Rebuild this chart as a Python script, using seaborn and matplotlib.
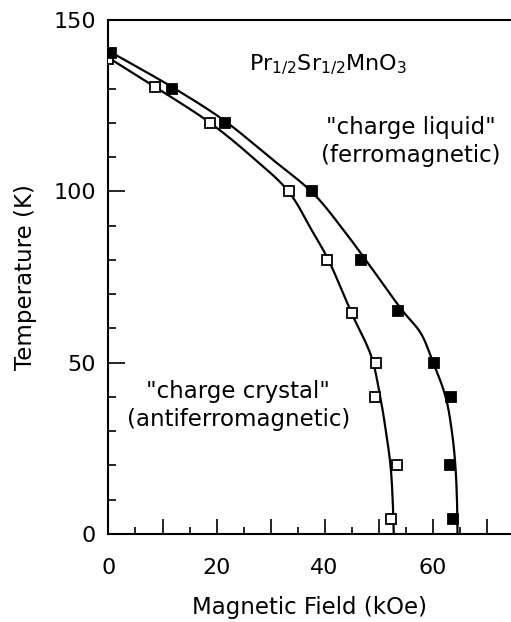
import matplotlib
matplotlib.use("Agg")
import matplotlib.pyplot as plt
from matplotlib.ticker import FixedLocator, FuncFormatter
import numpy as np
import pandas as pd
import seaborn as sns

# Measured transition points: field (kOe) and temperature (K)
field_open = [0.0, 8.6, 18.8, 33.5, 40.5, 45.0, 49.5, 49.3, 53.4, 52.2]
temp_open = [138.5, 130.5, 120.0, 100.0, 80.0, 64.5, 50.0, 40.0, 20.0, 4.5]
field_filled = [0.5, 11.8, 21.5, 37.7, 46.7, 53.5, 60.2, 63.4, 63.2, 63.7]
temp_filled = [140.5, 130.0, 120.0, 100.0, 80.0, 65.0, 50.0, 40.0, 20.0, 4.5]

# Guide-to-the-eye phase boundaries (knots of the drawn curves)
curve_open_field = [0.0, 8.6, 18.8, 26.6, 33.3, 37.6, 40.7, 45.0, 48.6, 50.3,
                    51.4, 52.2, 52.6, 52.8]
curve_open_temp = [139.0, 130.5, 120.0, 110.0, 100.0, 88.7, 80.0, 64.4, 52.0,
                   40.0, 29.4, 20.0, 10.0, 0.0]
curve_filled_field = [0.0, 11.7, 21.3, 29.8, 37.9, 43.5, 47.6, 54.3, 57.8, 59.9,
                      62.4, 63.6, 64.2, 64.5, 64.6]
curve_filled_temp = [141.0, 130.5, 120.8, 110.0, 99.4, 88.7, 80.0, 65.4, 58.6,
                     50.8, 40.0, 29.4, 20.0, 10.0, 0.0]

x_tick_labels = {0: "0", 20: "20", 40: "40", 60: "60"}
y_tick_labels = {0: "0", 50: "50", 100: "100", 150: "150"}

# display aspect of one kOe versus one K, used to space the curve parameter
ASPECT = np.array([5.4, 3.43])


def smooth_path(xs, ys, steps=20, alpha=0.5):
    """Centripetal Catmull-Rom path through the knots (xs, ys)."""
    p = np.column_stack([xs, ys]).astype(float) * ASPECT
    p = np.vstack([2 * p[0] - p[1], p, 2 * p[-1] - p[-2]])
    pieces = []
    for i in range(1, len(p) - 2):
        p0, p1, p2, p3 = p[i - 1], p[i], p[i + 1], p[i + 2]
        t0 = 0.0
        t1 = t0 + np.linalg.norm(p1 - p0) ** alpha
        t2 = t1 + np.linalg.norm(p2 - p1) ** alpha
        t3 = t2 + np.linalg.norm(p3 - p2) ** alpha
        t = np.linspace(t1, t2, steps, endpoint=False)[:, None]
        a1 = (t1 - t) / (t1 - t0) * p0 + (t - t0) / (t1 - t0) * p1
        a2 = (t2 - t) / (t2 - t1) * p1 + (t - t1) / (t2 - t1) * p2
        a3 = (t3 - t) / (t3 - t2) * p2 + (t - t2) / (t3 - t2) * p3
        b1 = (t2 - t) / (t2 - t0) * a1 + (t - t0) / (t2 - t0) * a2
        b2 = (t3 - t) / (t3 - t1) * a2 + (t - t1) / (t3 - t1) * a3
        c = (t2 - t) / (t2 - t1) * b1 + (t - t1) / (t2 - t1) * b2
        pieces.append(c)
    pieces.append(p[-2][None, :])
    out = np.vstack(pieces) / ASPECT
    return out[:, 0], out[:, 1]


sns.set_theme(style="ticks")
plt.rcParams["font.family"] = ["DejaVu Sans"]
plt.rcParams["mathtext.fontset"] = "dejavusans"
plt.rcParams["text.color"] = "black"
plt.rcParams["axes.labelcolor"] = "black"

fig = plt.figure(figsize=(5.11, 6.22), dpi=100)
ax = fig.add_axes([0.2123, 0.1415, 0.7877, 0.8263])

pts_open = pd.DataFrame({"H": field_open, "T": temp_open})
pts_filled = pd.DataFrame({"H": field_filled, "T": temp_filled})

for cx, cy in ((curve_open_field, curve_open_temp),
               (curve_filled_field, curve_filled_temp)):
    sx, sy = smooth_path(cx, cy)
    crv = pd.DataFrame({"H": sx, "T": sy})
    sns.lineplot(data=crv, x="H", y="T", sort=False, estimator=None,
                 color="black", linewidth=1.6, ax=ax, zorder=2)

ax.plot(pts_open["H"], pts_open["T"], linestyle="none", marker="s",
        markersize=6.6, markerfacecolor="white", markeredgecolor="black",
        markeredgewidth=1.3, zorder=3)
ax.plot(pts_filled["H"], pts_filled["T"], linestyle="none", marker="s",
        markersize=6.6, markerfacecolor="black", markeredgecolor="black",
        markeredgewidth=1.3, zorder=3)

ax.set_xlim(0, 74.5)
ax.set_ylim(0, 150)

for side in ("left", "bottom", "top"):
    ax.spines[side].set_linewidth(1.5)
    ax.spines[side].set_color("black")
ax.spines["right"].set_visible(False)

ax.xaxis.set_major_locator(FixedLocator(np.arange(0, 75, 10)))
ax.xaxis.set_minor_locator(FixedLocator(np.arange(5, 75, 10)))
ax.xaxis.set_major_formatter(FuncFormatter(lambda v, p: x_tick_labels.get(int(round(v)), "")))
ax.yaxis.set_major_locator(FixedLocator([0, 50, 100, 150]))
ax.yaxis.set_minor_locator(FixedLocator([10, 20, 30, 40, 60, 70, 80, 90, 110, 120, 130, 140]))
ax.yaxis.set_major_formatter(FuncFormatter(lambda v, p: y_tick_labels.get(int(round(v)), "")))

ax.tick_params(axis="x", which="major", direction="in", length=11, width=1.2,
               pad=17, labelsize=16, colors="black", bottom=True, top=False)
ax.tick_params(axis="x", which="minor", direction="in", length=5, width=1.2,
               colors="black", bottom=True, top=False)
ax.tick_params(axis="y", which="major", direction="in", length=12.5, width=1.2,
               pad=9, labelsize=16, colors="black", left=True, right=False)
ax.tick_params(axis="y", which="minor", direction="in", length=6, width=1.2,
               colors="black", left=True, right=False)

ax.set_xlabel("Magnetic Field (kOe)", fontsize=16.5, labelpad=13)
ax.set_ylabel("Temperature (K)", fontsize=16.5, labelpad=12)

ax.text(26.0, 137.0, r"Pr$_{1/2}$Sr$_{1/2}$MnO$_3$", fontsize=16,
        ha="left", va="center")
ax.text(56.0, 114.5, "\"charge liquid\"\n(ferromagnetic)", fontsize=16.5,
        ha="center", va="center", linespacing=1.25)
ax.text(24.0, 37.5, "\"charge crystal\"\n(antiferromagnetic)", fontsize=16.5,
        ha="center", va="center", linespacing=1.25)

fig.savefig("out.png", dpi=100)
